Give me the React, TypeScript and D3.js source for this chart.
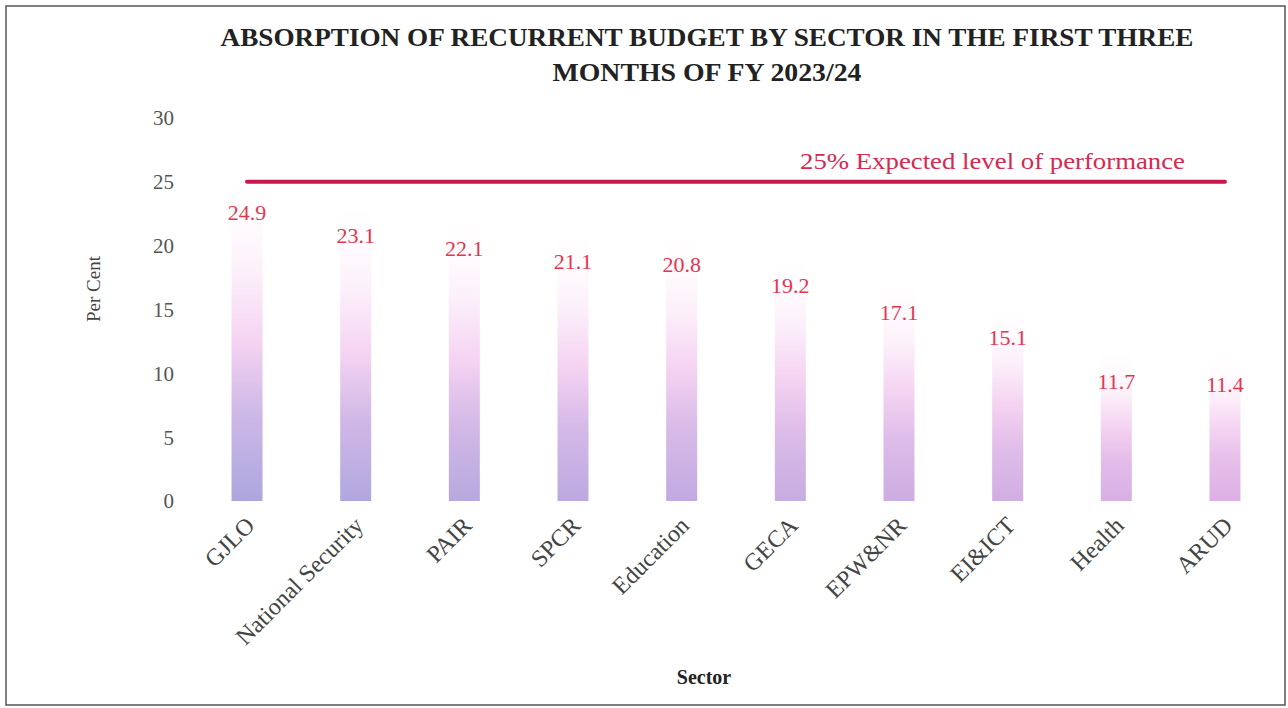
import React from "react";
import * as d3 from "d3";

const categories = ["GJLO", "National Security", "PAIR", "SPCR", "Education", "GECA", "EPW&NR", "EI&ICT", "Health", "ARUD"];
const values = [24.9, 23.1, 22.1, 21.1, 20.8, 19.2, 17.1, 15.1, 11.7, 11.4];
const expected = [25, 25, 25, 25, 25, 25, 25, 25, 25, 25];
const yTicks = [0, 5, 10, 15, 20, 25, 30];
const titleLines = ["ABSORPTION OF RECURRENT BUDGET BY SECTOR IN THE FIRST THREE", "MONTHS OF FY 2023/24"];
const lineLabel = "25% Expected level of performance";

const W = 1288;
const H = 708;
const FONT = "'Liberation Serif', 'DejaVu Serif', serif";

export default function App() {
  const x = d3.scalePoint<string>().domain(categories).range([192.7, 1279.3]).padding(0.5);
  const y = d3.scaleLinear().domain([0, 30]).range([501, 118]);
  const barW = 31;
  const bottomColor = d3.interpolateRgb("#aca6de", "#dcb0e4");
  const line = d3
    .line<number>()
    .x((_, i) => x(categories[i]) as number)
    .y((d) => y(d));

  return (
    <svg width={W} height={H} style={{ position: "fixed", left: 0, top: 0, background: "#fff" }} fontFamily={FONT}>
      <defs>
        {categories.map((c, i) => {
          const b = bottomColor(i / (categories.length - 1));
          return (
            <linearGradient key={c} id={`g${i}`} x1="0" y1="1" x2="0" y2="0">
              <stop offset="0" stopColor={b} />
              <stop offset="0.28" stopColor={d3.interpolateRgb(b, "#f0cbef")(0.5)} />
              <stop offset="0.5" stopColor="#f5d3f2" />
              <stop offset="0.72" stopColor="#fcf0fa" />
              <stop offset="0.85" stopColor="#fffafe" />
              <stop offset="1" stopColor="#ffffff" />
            </linearGradient>
          );
        })}
      </defs>
      <rect x={0} y={0} width={W} height={H} fill="#fff" />
      <rect x={6} y={6} width={1279} height={699} fill="none" stroke="#555" strokeWidth={1.5} />

      {titleLines.map((t, i) => (
        <text
          key={t}
          x={707}
          y={46 + i * 35}
          textAnchor="middle"
          fontWeight="bold"
          fontSize={25}
          fill="#222"
          textLength={i === 0 ? 973 : 309}
          lengthAdjust="spacingAndGlyphs"
        >
          {t}
        </text>
      ))}

      {yTicks.map((t) => (
        <text key={t} x={174} y={y(t)} dy="0.35em" textAnchor="end" fontSize={21} fill="#555">
          {t}
        </text>
      ))}
      <text transform={`translate(93,289) rotate(-90)`} textAnchor="middle" dy="0.35em" fontSize={19} fill="#444">
        Per Cent
      </text>

      {categories.map((c, i) => (
        <rect
          key={c}
          x={(x(c) as number) - barW / 2}
          y={y(values[i])}
          width={barW}
          height={y(0) - y(values[i])}
          fill={`url(#g${i})`}
        />
      ))}

      {categories.map((c, i) => (
        <text key={c} x={x(c) as number} y={y(values[i]) + 37} textAnchor="middle" fontSize={22} fill="#e4364e">
          {values[i].toFixed(1)}
        </text>
      ))}

      <path d={line(expected) ?? ""} fill="none" stroke="#c8174a" strokeWidth={4} strokeLinecap="round" />
      <text x={1185} y={169} textAnchor="end" fontSize={24} fill="#d42a52" textLength={385} lengthAdjust="spacingAndGlyphs">
        {lineLabel}
      </text>

      {categories.map((c) => (
        <text
          key={c}
          transform={`translate(${(x(c) as number) + 3},${521}) rotate(-45)`}
          textAnchor="end"
          dy="0.35em"
          fontSize={24}
          fill="#444"
        >
          {c}
        </text>
      ))}

      <text x={704} y={684} textAnchor="middle" fontWeight="bold" fontSize={20} fill="#222">
        Sector
      </text>
    </svg>
  );
}
